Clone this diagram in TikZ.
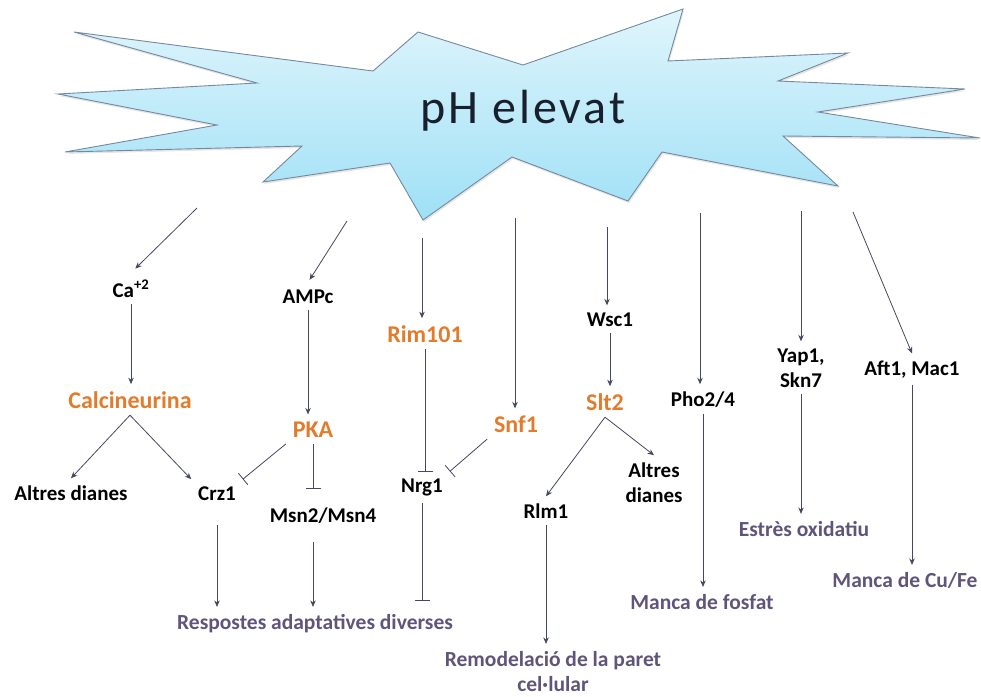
\documentclass[tikz,border=0pt]{standalone}
\usepackage{fontspec}
\setmainfont{Carlito}
\usetikzlibrary{arrows.meta,shadows}

\definecolor{enzorange}{RGB}{226,124,44}
\definecolor{outpurple}{RGB}{95,84,122}
\definecolor{arrowgray}{RGB}{68,72,96}
\definecolor{startop}{RGB}{224,245,252}
\definecolor{starbot}{RGB}{158,224,246}
\definecolor{starline}{RGB}{118,136,160}
\definecolor{phtext}{RGB}{25,32,45}

\begin{document}
\begin{tikzpicture}[x=1pt,y=-1pt,
    lbl/.style={font=\fontsize{21}{25}\selectfont\bfseries,inner sep=0pt,outer sep=7pt,anchor=base,align=center},
    enz/.style={lbl,text=enzorange,font=\fontsize{24}{28}\selectfont\bfseries},
    outc/.style={lbl,text=outpurple,font=\fontsize{21.5}{25}\selectfont\bfseries},
    act/.style={draw=arrowgray,line width=0.8pt,-{Stealth[length=6.5pt,width=5.5pt]}},
    inh/.style={draw=arrowgray,line width=0.8pt,-{Bar[width=15pt,line width=0.8pt]}}]
%    \draw[orange,thin] (0,0) grid[step=50] (981,696);
    \useasboundingbox (0,0) rectangle (981,696);

    % star
    \draw[starline,line width=0.9pt,top color=startop,bottom color=starbot,
          drop shadow={shadow xshift=1pt,shadow yshift=-2pt,opacity=0.2}]
        (74,32) -- (373,71) -- (418,32) -- (523,65) -- (683,9) -- (668,61)
        -- (848,53) -- (778,81) -- (965,89) -- (818,112) -- (980,138)
        -- (783,136) -- (838,186) -- (662,152) -- (628,201) -- (512,157)
        -- (423,220) -- (390,163) -- (263,182) -- (302,146) -- (65,152)
        -- (217,125) -- (58,94) -- (257,83) -- cycle;
    \node [anchor=base,text=phtext,font=\fontsize{48}{54}\selectfont\addfontfeature{LetterSpace=6}] (ph) at (523,123) {pH elevat};

    \coordinate (s1) at (197,208);
    \coordinate (s2) at (347,221);
    \coordinate (s3) at (422,238);
    \coordinate (s4) at (515,218);
    \coordinate (s5) at (607,227);
    \coordinate (s6) at (700,213);
    \coordinate (s7) at (801,211);
    \coordinate (s8) at (853,212);

    % labels
    \node [lbl] (ca) at (131,297) {Ca\textsuperscript{+2}};
    \node [enz] (calc) at (130,408) {Calcineurina};
    \node [lbl] (ampc) at (308,303) {AMPc};
    \node [enz] (pka) at (313,437) {PKA};
    \node [enz] (rim) at (425,342) {Rim101};
    \node [enz] (snf) at (516,432) {Snf1};
    \node [lbl] (wsc) at (610,326) {Wsc1};
    \node [enz] (slt) at (605,410) {Slt2};
    \node [lbl] (pho) at (703,406) {Pho2/4};
    \node [lbl] (yap) at (801,387) {Yap1,\\Skn7};
    \node [lbl] (aft) at (912,375) {Aft1, Mac1};
    \node [lbl] (altres1) at (71,500) {Altres dianes};
    \node [lbl] (crz) at (217,500) {Crz1};
    \node [lbl] (msn) at (323,522) {Msn2/Msn4};
    \node [lbl] (nrg) at (422,492) {Nrg1};
    \node [lbl] (rlm) at (546,518) {Rlm1};
    \node [lbl] (altres2) at (654,502) {Altres\\dianes};

    % outcomes
    \node [outc] (resp) at (315,629) {Respostes adaptatives diverses};
    \node [outc] (remod) at (553,691) {Remodelació de la paret\\cel·lular};
    \node [outc] (fosfat) at (702,609) {Manca de fosfat};
    \node [outc] (estres) at (804,536) {Estrès oxidatiu};
    \node [outc] (cufe) at (905,587) {Manca de Cu/Fe};

    % from the star
    \draw[act,shorten >=6pt] (s1) -- (ca.north);
    \draw[act,shorten >=3pt] (s2) -- (ampc.north);
    \draw[act] (s3) -- (s3 |- rim.north);
    \draw[act] (s4) -- (s4 |- snf.north);
    \draw[act] (s5) -- (s5 |- wsc.north);
    \draw[act] (s6) -- (s6 |- pho.north);
    \draw[act] (s7) -- (s7 |- yap.north);
    \draw[act] (s8) -- (aft.north);

    % calcium
    \draw[act] (ca.south) -- (ca.south |- calc.north);
    \draw[act] (calc.south) -- (altres1.north);
    \draw[act] (calc.south) -- (crz.north west);
    \draw[act,shorten <=18pt] (crz.south) -- (crz.south |- resp.north);

    % AMPc
    \draw[act] (ampc.south) -- (ampc.south |- pka.north);
    \draw[inh] (pka.south west) -- (crz.north east);
    \draw[inh,shorten >=11pt] (pka.south) -- (pka.south |- msn.north);
    \draw[act,shorten <=12pt] (pka.south |- msn.south) -- (pka.south |- resp.north);

    % Rim101, Snf1
    \draw[inh] (rim.south) -- (rim.south |- nrg.north);
    \draw[inh] (snf.south west) -- (nrg.north east);
    \draw[inh,shorten >=6pt] (nrg.south) -- (nrg.south |- resp.north);

    % Wsc1, Slt2
    \draw[act] (wsc.south) -- (wsc.south |- slt.north);
    \draw[act] (slt.south) -- (rlm.north);
    \draw[act] (slt.south) -- (altres2.north);
    \draw[act] (rlm.south) -- (rlm.south |- remod.north);

    % other pathways
    \draw[act] (pho.south) -- (pho.south |- fosfat.north);
    \draw[act] (yap.south) -- (yap.south |- estres.north);
    \draw[act] (aft.south) -- (aft.south |- cufe.north);
\end{tikzpicture}
\end{document}
